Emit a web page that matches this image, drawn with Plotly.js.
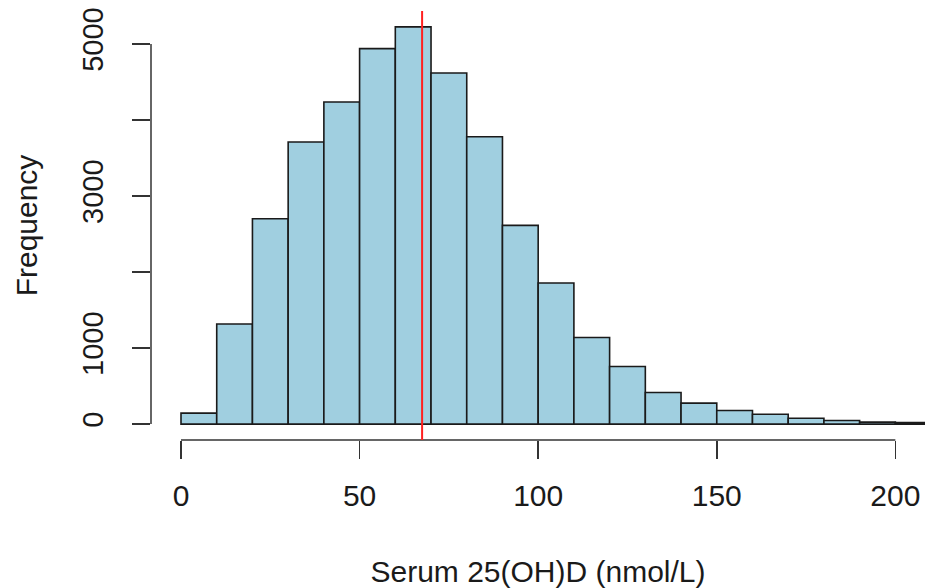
<!DOCTYPE html>
<html>
<head>
<meta charset="utf-8">
<script src="https://cdn.plot.ly/plotly-3.0.1.min.js"></script>
<style>html,body{margin:0;padding:0;background:#fff;}#chart{width:925px;height:588px;}</style>
</head>
<body>
<div id="chart"></div>
<script>
// Histogram of serum 25(OH)D, bins of width 10 nmol/L
const binStarts = [0,10,20,30,40,50,60,70,80,90,100,110,120,130,140,150,160,170,180,190,200];
const binWidth = 10;
const counts = [145,1316,2701,3710,4237,4938,5224,4618,3780,2613,1855,1140,758,416,276,179,130,78,47,26,20];
const meanValue = 67.5;
const xTicks = [0,50,100,150,200];
const yTicks = [0,1000,2000,3000,4000,5000];
const yTickText = ['0','1000','','3000','','5000'];

const FONT = 'Liberation Sans, Arial, Helvetica, sans-serif';
const INK = '#1a1a1a';

const traces = [{
  type: 'bar',
  x: binStarts,
  y: counts,
  width: binStarts.map(() => binWidth),
  offset: 0,
  marker: {color: '#a0cfe0', line: {color: '#1a1a1a', width: 1.6}},
  hoverinfo: 'x+y'
}];

const layout = {
  width: 925, height: 588,
  margin: {l: 151, r: 0, t: 11, b: 148, pad: 0},
  paper_bgcolor: '#fff', plot_bgcolor: '#fff',
  showlegend: false,
  bargap: 0,
  font: {family: FONT, size: 30, color: INK},
  xaxis: {
    range: [-8.4, 208.3],
    tickmode: 'array', tickvals: xTicks, ticktext: xTicks.map(String),
    ticks: 'outside', ticklen: 18, tickwidth: 1.5, tickcolor: '#333',
    showgrid: false, zeroline: false, showline: false,
    tickfont: {family: FONT, size: 30, color: INK},
    ticklabelstandoff: 11,
    title: {text: 'Serum 25(OH)D (nmol/L)', font: {family: FONT, size: 30, color: INK}, standoff: 52}
  },
  yaxis: {
    range: [-209, 5433],
    tickmode: 'array', tickvals: yTicks, ticktext: yTickText,
    ticks: 'outside', ticklen: 18, tickwidth: 1.5, tickcolor: '#333',
    tickangle: -90,
    showgrid: false, zeroline: false, showline: false,
    tickfont: {family: FONT, size: 29, color: INK},
    ticklabelstandoff: 17,
    title: {text: 'Frequency', font: {family: FONT, size: 30, color: INK}, standoff: 30}
  },
  shapes: [
    {type: 'line', xref: 'x', yref: 'paper', x0: xTicks[0], x1: xTicks[xTicks.length-1], y0: 0, y1: 0,
     line: {color: '#333', width: 1.5}},
    {type: 'line', xref: 'paper', yref: 'y', x0: 0, x1: 0, y0: yTicks[0], y1: yTicks[yTicks.length-1],
     line: {color: '#333', width: 1.5}},
    {type: 'line', xref: 'x', yref: 'paper', x0: meanValue, x1: meanValue, y0: 0, y1: 1,
     line: {color: '#ff2020', width: 2}}
  ]
};

Plotly.newPlot('chart', traces, layout, {displayModeBar: false, staticPlot: true});
</script>
</body>
</html>
